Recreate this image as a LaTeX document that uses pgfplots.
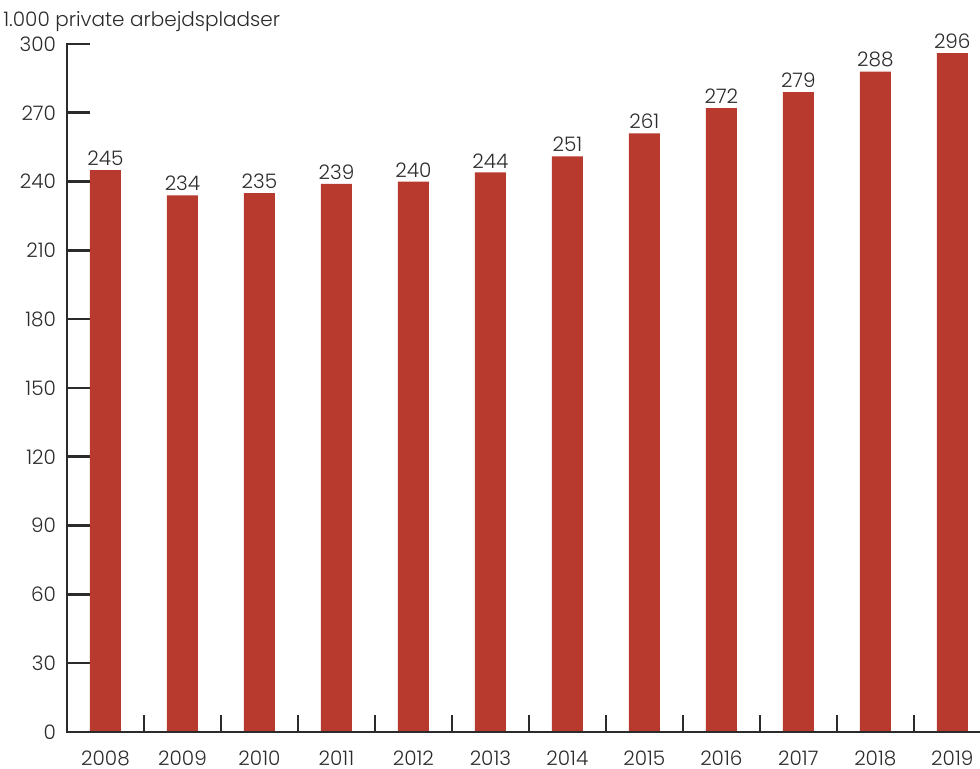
\documentclass[border=0pt]{standalone}
\usepackage{pgfplots}
\pgfplotsset{compat=1.18}
\usepackage{fontspec}
\setmainfont{Poppins}[UprightFont=* Light]
\definecolor{barred}{HTML}{B8392D}
\definecolor{txt}{HTML}{2B2B2B}
\begin{document}
\begin{tikzpicture}
\begin{axis}[
  scale only axis,
  width=456.5pt, height=344pt,
  xmin=-0.5, xmax=11.36,
  ymin=0, ymax=300,
  axis line style={draw=none},
  ytick={0,30,...,300},
  xtick={0,...,11},
  xticklabels={2008,2009,2010,2011,2012,2013,2014,2015,2016,2017,2018,2019},
  minor xtick={0.5,1.5,...,10.5},
  tick align=inside,
  ytick pos=left,
  xtick pos=bottom,
  major tick length=11.5pt,
  minor tick length=8.5pt,
  every tick/.append style={line width=1.3pt, color=txt},
  major x tick style={draw=none},
  tick label style={font=\fontsize{10pt}{12pt}\selectfont, color=txt},
  /pgf/number format/assume math mode=true,
  yticklabel style={xshift=-2pt},
  xticklabel style={inner sep=0pt, yshift=-9.3pt},
  clip=false,
  nodes near coords,
  every node near coord/.append style={font=\fontsize{10pt}{12pt}\selectfont, color=txt, inner sep=2pt},
]
\addplot[ybar, bar width=15.5pt, fill=barred, draw=none] coordinates {
(0,245) (1,234) (2,235) (3,239) (4,240) (5,244) (6,251) (7,261) (8,272) (9,279) (10,288) (11,296)
};
\draw[line width=1.3pt, color=txt, line cap=rect] (rel axis cs:0,1) -- (rel axis cs:0,0) -- (rel axis cs:1,0);
\end{axis}
\node[anchor=base west, font=\fontsize{10pt}{12pt}\selectfont, color=txt, inner sep=0pt] at (-32pt,352.5pt) {1.000 private arbejdspladser};
\pgfresetboundingbox
\path (-33.5pt,-18.5pt) rectangle (456.5pt,366pt);
\end{tikzpicture}
\end{document}
